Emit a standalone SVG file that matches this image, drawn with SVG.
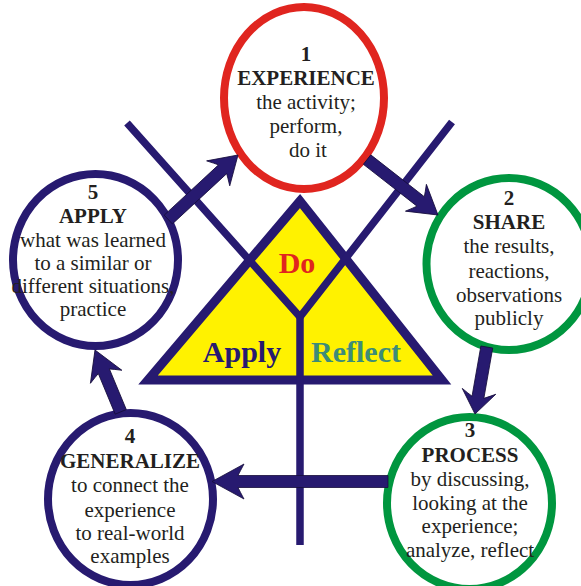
<svg xmlns="http://www.w3.org/2000/svg" width="581" height="586" viewBox="0 0 581 586">
<style>
.bg{fill:#ffffff}
.ring{fill:#ffffff;stroke-width:8}
.navy{stroke:#271a70}
.red{stroke:#e0251f}
.green{stroke:#00963f}
.line{fill:none;stroke:#271a70;stroke-width:7.5;stroke-linejoin:miter;stroke-miterlimit:10}
.arrow{fill:#271a70;stroke:#150c3a;stroke-width:0.8;stroke-linejoin:miter}
text{font-family:"Liberation Serif","Times New Roman",serif;font-size:21px;fill:#231f20;text-anchor:middle}
.b{font-weight:bold}
.big{font-size:30px;font-weight:bold}
</style>
<rect class="bg" x="0" y="0" width="581" height="586"/>
<g id="center">
  <polygon points="300,201 148,380 442,380" fill="#fff200" stroke="#271a70" stroke-width="9" stroke-linejoin="miter"/>
  <polyline class="line" points="127,123 300,317 452,122"/>
  <line class="line" x1="300" y1="314" x2="300" y2="545"/>
  <text class="big" x="297" y="273" style="fill:#e0251f">Do</text>
  <text class="big" x="242" y="362" style="fill:#271a70">Apply</text>
  <text class="big" x="356" y="362" style="fill:#3d8c78">Reflect</text>
</g>
<g id="node1">
  <ellipse class="ring red" cx="304" cy="98" rx="80" ry="91"/>
  <text class="b" x="306" y="61">1</text>
  <text class="b" x="306" y="85">EXPERIENCE</text>
  <text x="306" y="109">the activity;</text>
  <text x="306" y="133">perform,</text>
  <text x="308" y="157">do it</text>
</g>
<g id="node2">
  <ellipse class="ring green" cx="509" cy="264" rx="82.5" ry="86"/>
  <text class="b" x="509" y="205">2</text>
  <text class="b" x="509" y="229">SHARE</text>
  <text x="509" y="253">the results,</text>
  <text x="509" y="278">reactions,</text>
  <text x="509" y="302">observations</text>
  <text x="509" y="325">publicly</text>
</g>
<g id="node3">
  <ellipse class="ring green" cx="469.5" cy="503" rx="82.5" ry="86"/>
  <text class="b" x="470" y="437">3</text>
  <text class="b" x="470" y="462">PROCESS</text>
  <text x="470" y="486">by discussing,</text>
  <text x="470" y="510">looking at the</text>
  <text x="470" y="533">experience;</text>
  <text x="470" y="557">analyze, reflect</text>
</g>
<g id="node4">
  <ellipse class="ring navy" cx="130.5" cy="499" rx="82.5" ry="86"/>
  <text class="b" x="130" y="443">4</text>
  <text class="b" x="130" y="468">GENERALIZE</text>
  <text x="130" y="492">to connect the</text>
  <text x="130" y="517">experience</text>
  <text x="130" y="540">to real-world</text>
  <text x="130" y="563">examples</text>
</g>
<g id="node5">
  <ellipse class="ring navy" cx="95.5" cy="260" rx="82.5" ry="86"/>
  <text class="b" x="93" y="199">5</text>
  <text class="b" x="93" y="223">APPLY</text>
  <text x="93" y="247">what was learned</text>
  <text x="93" y="270">to a similar or</text>
  <text x="93" y="293">different situations,</text>
  <text x="93" y="316">practice</text>
</g>
<g id="connectors">
  <path class="arrow" transform="translate(238,155) rotate(-42.8)" d="M0,0 L-27,-17 Q-23,-10 -21,-6 L-95,-6 L-95,6 L-21,6 Q-23,10 -27,17 Z"/>
  <path class="arrow" transform="translate(438,215) rotate(38)" d="M0,0 L-28,-17 Q-24,-10 -22,-6 L-90,-6 L-90,6 L-22,6 Q-24,10 -28,17 Z"/>
  <path class="arrow" transform="translate(475,414) rotate(100)" d="M0,0 L-23,-17 Q-19,-10 -17,-6 L-68,-6 L-68,6 L-17,6 Q-19,10 -23,17 Z"/>
  <path class="arrow" transform="translate(212,481.5) rotate(180)" d="M0,0 L-32,-17.5 Q-28,-10 -26,-6 L-176,-6 L-176,6 L-26,6 Q-28,10 -32,17.5 Z"/>
  <path class="arrow" transform="translate(95,350) rotate(-112.6)" d="M0,0 L-29,-17 Q-25,-10 -23,-6 L-67,-6 L-67,6 L-23,6 Q-25,10 -29,17 Z"/>
</g>
</svg>
